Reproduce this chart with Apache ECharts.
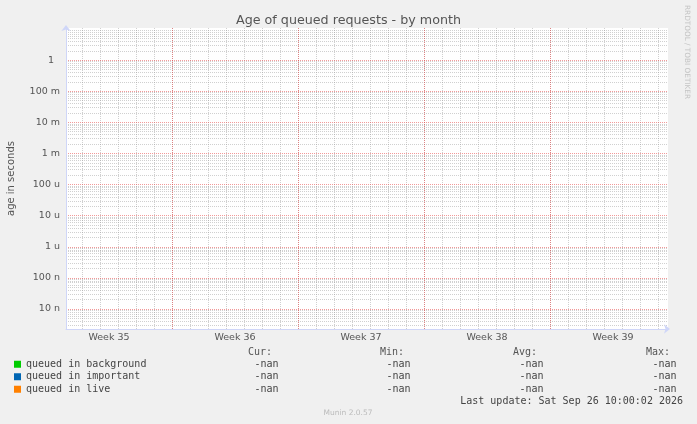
<!DOCTYPE html>
<html><head><meta charset="utf-8">
<script src="https://cdn.jsdelivr.net/npm/echarts@6/dist/echarts.min.js"></script>
<style>html,body{margin:0;padding:0;background:#f0f0f0}#c{width:697px;height:424px}</style>
</head><body><div id="c"></div>
<script>
// ---- data (all values are -nan: nothing is plotted) ----
const seriesNames = ['queued in background', 'queued in important', 'queued in live'];
const seriesColors = ['#00cc00', '#0066b3', '#ff8000'];
const backgroundValues = [];
const importantValues = [];
const liveValues = [];
const statHeaders = ['Cur:', 'Min:', 'Avg:', 'Max:'];
const curValues = ['-nan', '-nan', '-nan'];
const minValues = ['-nan', '-nan', '-nan'];
const avgValues = ['-nan', '-nan', '-nan'];
const maxValues = ['-nan', '-nan', '-nan'];
const weekLabels = ['Week 35', 'Week 36', 'Week 37', 'Week 38', 'Week 39'];
const weekLabelTimes = ['2026-08-27T12:00:00Z', '2026-09-03T12:00:00Z', '2026-09-10T12:00:00Z', '2026-09-17T12:00:00Z', '2026-09-24T12:00:00Z'];
const weekStartTimes = ['2026-08-31T00:00:00Z', '2026-09-07T00:00:00Z', '2026-09-14T00:00:00Z', '2026-09-21T00:00:00Z'];
const yTickValues = [1e-8, 1e-7, 1e-6, 1e-5, 1e-4, 1e-3, 1e-2, 1e-1, 1];
const yTickLabels = ['10 n', '100 n', '1 u', '10 u', '100 u', '1 m', '10 m', '100 m', '1  '];
const xStart = '2026-08-25T02:40:00Z';
const xEnd = '2026-09-27T13:20:00Z';
const yMin = 2.28e-9;
const yMax = 10.8;
const titleText = 'Age of queued requests - by month';
const yName = 'age in seconds';
const lastUpdate = 'Last update: Sat Sep 26 10:00:02 2026';
const footer = 'Munin 2.0.57';
const watermark = 'RRDTOOL / TOBI OETIKER';

// ---- grid helpers (grid lines only) ----
const t0 = Date.parse(xStart), t1 = Date.parse(xEnd);
const dayTimes = [];
for (let t = Date.parse('2026-08-25T00:00:00Z'); t <= t1; t += 86400000) if (t > t0) dayTimes.push(t);
const minorY = [];
for (let d = -9; d <= 1; d++) for (let k = 2; k <= 9; k++) { const v = k * Math.pow(10, d); if (v > yMin && v < yMax) minorY.push(v); }
const weekStartMs = weekStartTimes.map(Date.parse);
const weekLabelMs = weekLabelTimes.map(Date.parse);

const FONT = 'DejaVu Sans';
const MONO = 'DejaVu Sans Mono';
const TXT = '#555';
const AXIS = '#CFD6F8';
const GRIDC = 'rgba(150,150,150,0.45)';
const MGRIDC = 'rgba(232,70,70,0.55)';

const hidden = { show: false };
const chart = echarts.init(document.getElementById('c'), null, { renderer: 'canvas' });

const colX = [272, 404, 537, 670];
const colVals = [curValues, minValues, avgValues, maxValues];
const rowY = [364, 376.5, 389];
const graphics = [];
statHeaders.forEach((h, i) => graphics.push({ type: 'text', x: colX[i], y: 352, style: { text: h, font: '10px ' + MONO, fill: TXT, textAlign: 'right', textVerticalAlign: 'middle' } }));
colVals.forEach((vals, i) => vals.forEach((v, r) => graphics.push({ type: 'text', x: colX[i] + 6.5, y: rowY[r], style: { text: v, font: '10px ' + MONO, fill: '#444', textAlign: 'right', textVerticalAlign: 'middle' } })));
graphics.push({ type: 'text', x: 683, y: 401, style: { text: lastUpdate, font: '10px ' + MONO, fill: '#444', textAlign: 'right', textVerticalAlign: 'middle' } });
graphics.push({ type: 'text', x: 348, y: 413, style: { text: footer, font: '7.5px ' + FONT, fill: '#bbb', textAlign: 'center', textVerticalAlign: 'middle' } });
graphics.push({ type: 'text', x: 687, y: 5, rotation: -Math.PI / 2, style: { text: watermark, font: '7.3px ' + FONT, fill: '#c4c4c4', textAlign: 'left', textVerticalAlign: 'middle' } });

const option = {
  backgroundColor: '#f0f0f0',
  animation: false,
  title: { text: titleText, left: 'center', top: 9, textStyle: { fontFamily: FONT, fontSize: 12.7, fontWeight: 'normal', color: '#555' } },
  grid: { left: 66, top: 28, width: 602, height: 301, show: true, backgroundColor: '#ffffff', borderWidth: 0, containLabel: false, outerBoundsMode: 'none' },
  legend: {
    orient: 'vertical', left: 9, top: 353, padding: 5, itemGap: 0, itemWidth: 7, itemHeight: 7, icon: 'rect',
    textStyle: { fontFamily: MONO, fontSize: 10, color: '#444', lineHeight: 12.5 },
    data: seriesNames
  },
  xAxis: [
    { type: 'value', position: 'bottom', z: 0, min: t0, max: t1, axisLine: hidden, axisLabel: hidden,
      axisTick: { show: false, customValues: dayTimes },
      splitLine: { show: true, lineStyle: { color: GRIDC, width: 1, type: [1, 1] } } },
    { type: 'value', position: 'bottom', z: 2, min: t0, max: t1, axisLine: hidden, axisLabel: hidden,
      axisTick: { show: false, customValues: weekStartMs },
      splitLine: { show: true, lineStyle: { color: MGRIDC, width: 1, type: [1, 1] } } },
    { type: 'value', position: 'bottom', z: 3, min: t0, max: t1,
      axisLine: { show: true, symbol: ['none', 'arrow'], symbolSize: [7, 6], symbolOffset: [0, 2], lineStyle: { color: AXIS, width: 1 } },
      axisTick: { show: false, customValues: weekLabelMs },
      splitLine: hidden,
      axisLabel: { show: true, customValues: weekLabelMs, margin: 4, fontFamily: FONT, fontSize: 9.5, color: TXT,
        formatter: v => { const i = weekLabelMs.indexOf(v); return i >= 0 ? weekLabels[i] : ''; } } }
  ],
  yAxis: [
    { type: 'log', logBase: 10, position: 'left', z: 0, min: yMin, max: yMax, axisLine: hidden, axisLabel: hidden,
      axisTick: { show: false, customValues: minorY },
      splitLine: { show: true, lineStyle: { color: GRIDC, width: 1, type: [1, 1] } } },
    { type: 'log', logBase: 10, position: 'left', z: 2, min: yMin, max: yMax,
      name: yName, nameLocation: 'middle', nameGap: 50, nameTextStyle: { fontFamily: FONT, fontSize: 10, color: TXT },
      axisLine: { show: true, symbol: ['none', 'arrow'], symbolSize: [7, 6], symbolOffset: [0, 3], lineStyle: { color: AXIS, width: 1 } },
      axisTick: { show: false, customValues: yTickValues },
      splitLine: { show: true, lineStyle: { color: MGRIDC, width: 1, type: [1, 1] } },
      axisLabel: { show: true, customValues: yTickValues, margin: 6, fontFamily: FONT, fontSize: 9.5, color: TXT,
        formatter: v => { let best = -1, bd = 1e9; yTickValues.forEach((t, i) => { const d = Math.abs(Math.log10(t) - Math.log10(v)); if (d < bd) { bd = d; best = i; } }); return bd < 0.01 ? yTickLabels[best] : ''; } } }
  ],
  series: [
    { name: seriesNames[0], type: 'line', xAxisIndex: 2, yAxisIndex: 1, color: seriesColors[0], showSymbol: false, data: backgroundValues },
    { name: seriesNames[1], type: 'line', xAxisIndex: 2, yAxisIndex: 1, color: seriesColors[1], showSymbol: false, data: importantValues },
    { name: seriesNames[2], type: 'line', xAxisIndex: 2, yAxisIndex: 1, color: seriesColors[2], showSymbol: false, data: liveValues }
  ],
  graphic: graphics
};
chart.setOption(option);
</script>
</body></html>
